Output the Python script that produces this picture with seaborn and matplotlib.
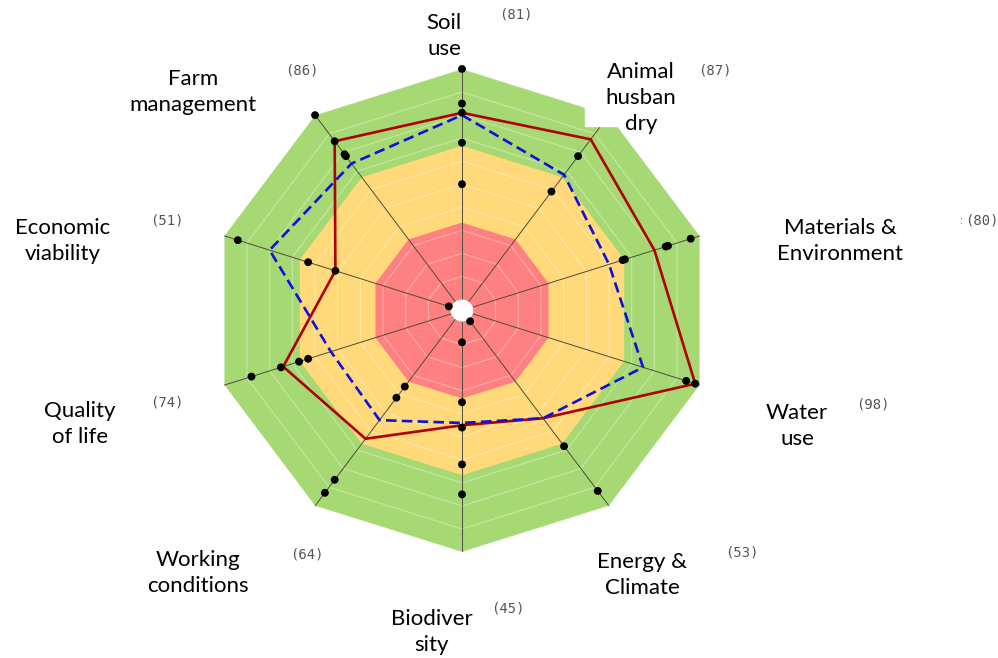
import numpy as np
import pandas as pd
import matplotlib.pyplot as plt
from matplotlib.patches import Rectangle
import seaborn as sns

# -----------------------------------------------
# Data
# -----------------------------------------------
themes = ["Soil use", "Animal husbandry", "Materials & Environment", "Water use",
          "Energy & Climate", "Biodiversity", "Working conditions", "Quality of life",
          "Economic viability", "Farm management"]
label_text = ["Soil\nuse", "Animal\nhusban\ndry", "Materials &\nEnvironment", "Water\nuse",
              "Energy &\nClimate", "Biodiver\nsity", "Working\nconditions", "Quality\nof life",
              "Economic\nviability", "Farm\nmanagement"]
farm_scores = [81, 87, 80, 98, 53, 45, 64, 74, 51, 86]
group_mean = [80, 68, 60, 75, 53, 44, 54, 53, 80, 74]
other_farms = [
    [100, 85, 81, 68, 50],
    [78, 59],
    [96, 86, 85, 67, 66],
    [98, 94],
    [92, 68, 1],
    [75, 62, 46, 35, 9],
    [93, 86, 42, 36],
    [88, 75, 67, 63],
    [94, 63, 51, 1],
    [100, 86, 79, 78],
]
band_edges = [100, 66.67, 33.33]
band_colors = ["#a6d973", "#ffd97a", "#ff8080"]

# -----------------------------------------------
# Layout
# -----------------------------------------------
W, H = 998, 658
# label block centres and score tag centres (pixels)
label_pos = [(444, 36), (641, 98), (840, 241), (797, 426), (642, 575),
             (432, 632), (198, 573), (80, 424), (63, 241), (193, 92)]
score_pos = [(516, 14), (715, 71), (982, 220), (873, 404), (742, 552),
             (508, 609), (307, 554), (167, 403), (167, 221), (302, 71)]

sns.set_theme(style="white")
plt.rcParams["font.family"] = ["Lato", "DejaVu Sans"]

fig = plt.figure(figsize=(W / 100, H / 100), dpi=100)
ax = fig.add_axes([212 / W, (H - 552) / H, 500 / W, 483 / H], projection="polar")
ax.set_theta_zero_location("N")
ax.set_theta_direction(-1)
ax.set_ylim(0, 100)
ax.set_rorigin(-4.8)
ax.set_aspect("auto")
ax.grid(False)
ax.set_xticks([])
ax.set_yticks([])
for s in ax.spines.values():
    s.set_color("none")
    s.set_linewidth(0)

n = len(themes)
theta = np.linspace(0, 2 * np.pi, n, endpoint=False)
theta_c = np.append(theta, theta[0] + 2 * np.pi)

# bands
for edge, col in zip(band_edges, band_colors):
    ax.fill(theta_c, [edge] * (n + 1), color=col, lw=0, zorder=1)

# faint rings
for v in range(10, 101, 10):
    ax.plot(theta_c, [v] * (n + 1), color="white", alpha=0.35, lw=0.8, zorder=2)

# spokes
for t in theta:
    ax.plot([t, t], [0, 100], color="#4d4d3a", lw=0.7, zorder=3)

# farm and mean lines
ax.plot(theta_c, farm_scores + farm_scores[:1], color="#b00000", lw=1.9, zorder=4)
ax.plot(theta_c, group_mean + group_mean[:1], color="#1010dd", lw=1.9,
        linestyle=(0, (4, 2)), zorder=4)

# other farm dots
dots = pd.DataFrame(
    [(theta[i], v) for i, vals in enumerate(other_farms) for v in vals],
    columns=["theta", "score"])
sns.scatterplot(data=dots, x="theta", y="score", ax=ax, color="black", s=32,
                edgecolor="none", zorder=5, clip_on=False, legend=False)
ax.set_xlabel("")
ax.set_ylabel("")

# white patch behind the top-right label
fig.patches.append(Rectangle((585 / W, 1 - 126 / H), 100 / W, 60 / H,
                             transform=fig.transFigure, color="white", zorder=1))

for txt, (x, y) in zip(label_text, label_pos):
    fig.text(x / W, 1 - y / H, txt, ha="center", va="center", fontsize=16,
             linespacing=1.38, color="black", zorder=3)
for val, (x, y) in zip(farm_scores, score_pos):
    fig.text(x / W, 1 - y / H, f"({val})", ha="center", va="center",
             fontsize=10, family="DejaVu Sans Mono", color="#555555", zorder=3)
fig.text(961 / W, 1 - 220 / H, ":", ha="center", va="center", fontsize=8,
         color="#888888")

fig.savefig("out.png", dpi=100)
